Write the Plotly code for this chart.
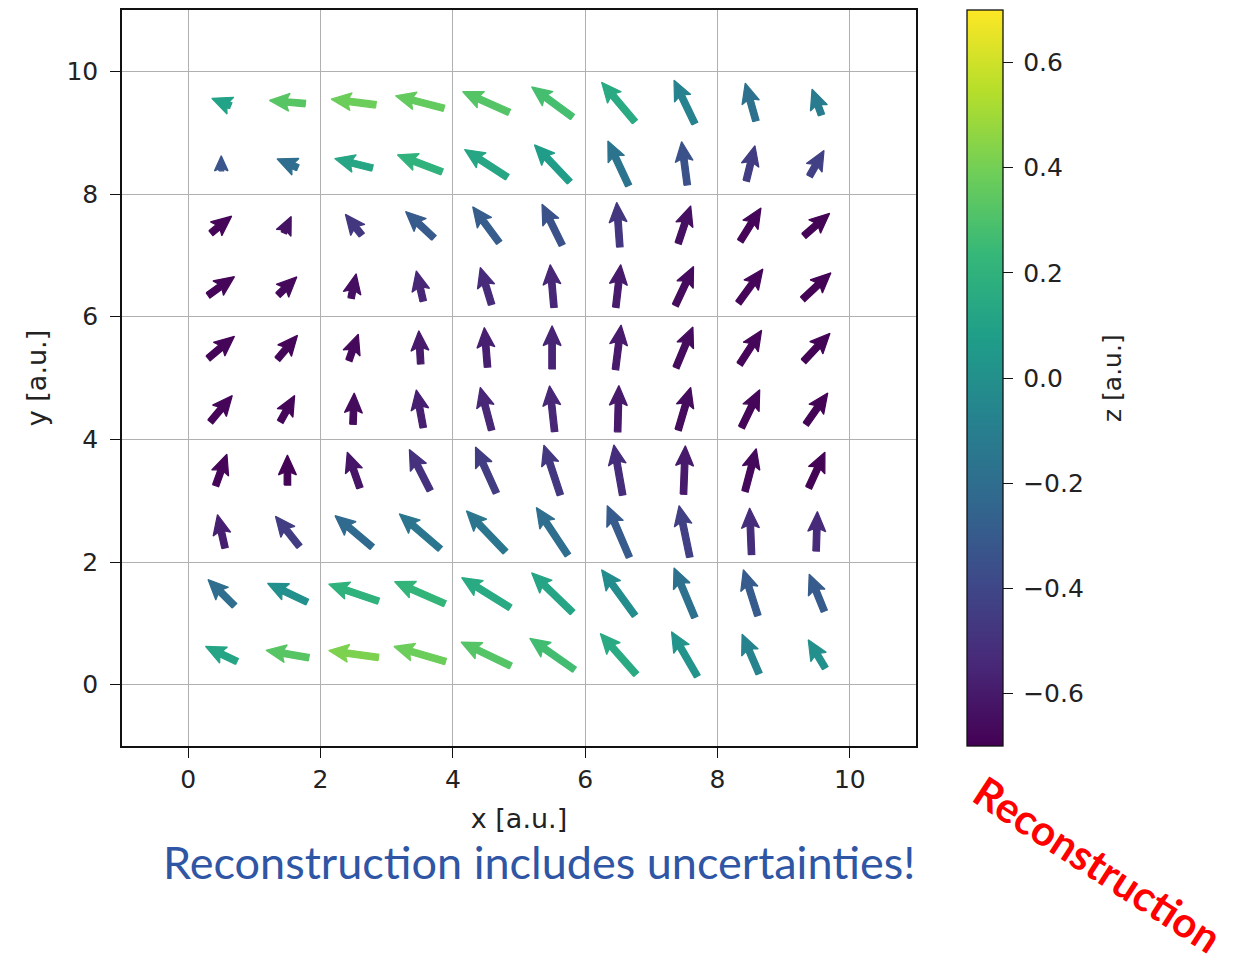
import numpy as np
import plotly.graph_objects as go
from plotly.colors import sample_colorscale

# ---- data ----
x_centers = [0.5, 1.5, 2.5, 3.5, 4.5, 5.5, 6.5, 7.5, 8.5, 9.5]
y_centers = [0.5, 1.5, 2.5, 3.5, 4.5, 5.5, 6.5, 7.5, 8.5, 9.5]

# rows: y = 0.5 (bottom) ... 9.5 (top); columns: x = 0.5 ... 9.5
U = [
    [-0.50, -0.68, -0.79, -0.82, -0.79, -0.71, -0.57, -0.41, -0.27, -0.27],
    [-0.42, -0.63, -0.79, -0.80, -0.77, -0.65, -0.53, -0.33, -0.23, -0.24],
    [-0.12, -0.38, -0.59, -0.65, -0.62, -0.50, -0.35, -0.17, -0.03, 0.02],
    [0.18, 0.00, -0.20, -0.33, -0.33, -0.26, -0.14, 0.03, 0.18, 0.26],
    [0.35, 0.23, 0.02, -0.11, -0.18, -0.08, 0.02, 0.20, 0.29, 0.35],
    [0.42, 0.32, 0.15, -0.03, -0.05, 0.00, 0.09, 0.27, 0.35, 0.42],
    [0.42, 0.30, 0.08, -0.11, -0.18, -0.06, 0.08, 0.29, 0.39, 0.45],
    [0.33, 0.12, -0.26, -0.45, -0.42, -0.32, -0.05, 0.20, 0.33, 0.41],
    [0.00, -0.33, -0.60, -0.71, -0.68, -0.56, -0.33, -0.09, 0.14, 0.23],
    [-0.30, -0.57, -0.71, -0.77, -0.74, -0.65, -0.53, -0.33, -0.17, -0.15],
]
V = [
    [0.24, 0.12, 0.11, 0.24, 0.38, 0.50, 0.65, 0.71, 0.63, 0.45],
    [0.42, 0.30, 0.27, 0.35, 0.48, 0.63, 0.73, 0.79, 0.73, 0.59],
    [0.53, 0.48, 0.50, 0.56, 0.65, 0.76, 0.82, 0.82, 0.74, 0.63],
    [0.50, 0.48, 0.57, 0.65, 0.73, 0.79, 0.80, 0.77, 0.68, 0.57],
    [0.42, 0.42, 0.50, 0.60, 0.68, 0.73, 0.74, 0.68, 0.60, 0.50],
    [0.35, 0.38, 0.42, 0.53, 0.63, 0.69, 0.71, 0.65, 0.54, 0.45],
    [0.30, 0.29, 0.39, 0.48, 0.59, 0.68, 0.68, 0.62, 0.54, 0.42],
    [0.27, 0.26, 0.33, 0.42, 0.57, 0.65, 0.71, 0.60, 0.53, 0.36],
    [0.24, 0.14, 0.15, 0.27, 0.44, 0.59, 0.71, 0.69, 0.56, 0.41],
    [0.12, 0.05, 0.09, 0.20, 0.33, 0.48, 0.63, 0.69, 0.60, 0.41],
]
Z = [
    [0.12, 0.33, 0.42, 0.38, 0.32, 0.27, 0.15, 0.02, -0.07, 0.00],
    [-0.20, 0.00, 0.20, 0.22, 0.15, 0.12, -0.02, -0.18, -0.30, -0.30],
    [-0.58, -0.45, -0.22, -0.15, -0.15, -0.20, -0.30, -0.43, -0.52, -0.53],
    [-0.68, -0.69, -0.62, -0.50, -0.45, -0.47, -0.52, -0.60, -0.67, -0.69],
    [-0.68, -0.68, -0.66, -0.58, -0.55, -0.55, -0.60, -0.66, -0.68, -0.69],
    [-0.68, -0.68, -0.67, -0.60, -0.58, -0.56, -0.60, -0.66, -0.68, -0.69],
    [-0.68, -0.67, -0.65, -0.55, -0.53, -0.55, -0.60, -0.66, -0.68, -0.69],
    [-0.68, -0.63, -0.47, -0.30, -0.29, -0.35, -0.48, -0.64, -0.68, -0.69],
    [-0.33, -0.20, 0.13, 0.20, 0.13, 0.07, -0.16, -0.35, -0.45, -0.43],
    [0.10, 0.33, 0.38, 0.36, 0.32, 0.28, 0.15, -0.08, -0.18, -0.12],
]
x_ticks = [0, 2, 4, 6, 8, 10]
y_ticks = [0, 2, 4, 6, 8, 10]
z_ticks = [-0.6, -0.4, -0.2, 0.0, 0.2, 0.4, 0.6]
ZMIN, ZMAX = -0.7, 0.7
XRANGE = [-1, 11]
YRANGE = [-1, 11]

# ---- layout geometry ----
FIG_W, FIG_H = 1256, 961
ML, MR, MT, MB = 122, 340, 8, 215
PW = FIG_W - ML - MR
PH = FIG_H - MT - MB
XPX = PW / (XRANGE[1] - XRANGE[0])
YPX = PH / (YRANGE[1] - YRANGE[0])

# quiver arrow style (pixels)
SCALE = 63.0
W = 6.5
HW = 18.0
HL = 20.0
HAL = 17.5

TXT = "#222"
FONT = "DejaVu Sans"

fig = go.Figure()

for j, yc in enumerate(y_centers):
    for i, xc in enumerate(x_centers):
        u, v, z = U[j][i], V[j][i], Z[j][i]
        L = float(np.hypot(u, v)) * SCALE
        ang = np.arctan2(v, u)
        if L >= HL:
            a = np.array([0, L - HAL, L - HL, L, L - HL, L - HAL, 0, 0])
            b = np.array([W / 2, W / 2, HW / 2, 0, -HW / 2, -W / 2, -W / 2, W / 2])
        else:
            s = L / HL
            a = np.array([0, HL - HAL, 0, HL, 0, HL - HAL, 0, 0]) * s
            b = np.array([W / 2, W / 2, HW / 2, 0, -HW / 2, -W / 2, -W / 2, W / 2]) * s
        a = a - L / 2.0
        c, sn = np.cos(ang), np.sin(ang)
        px = a * c - b * sn
        py = a * sn + b * c
        col = sample_colorscale("Viridis", [(z - ZMIN) / (ZMAX - ZMIN)])[0]
        fig.add_trace(go.Scatter(
            x=xc + px / XPX, y=yc + py / YPX,
            mode="lines", fill="toself", fillcolor=col,
            line=dict(color=col, width=1.2),
            hoverinfo="skip", showlegend=False,
        ))

# colorbar carrier
xs_all = [xc for yc in y_centers for xc in x_centers]
ys_all = [yc for yc in y_centers for xc in x_centers]
zs_all = [Z[j][i] for j in range(len(y_centers)) for i in range(len(x_centers))]
fig.add_trace(go.Scatter(
    x=xs_all, y=ys_all, mode="markers", hoverinfo="skip", showlegend=False,
    marker=dict(
        size=1, opacity=0, color=zs_all, colorscale="Viridis",
        cmin=ZMIN, cmax=ZMAX, showscale=True,
        colorbar=dict(
            x=(966.5 - ML) / PW, xanchor="left", xpad=0, ypad=0,
            y=0.5, yanchor="middle", len=1, lenmode="fraction",
            thickness=36, thicknessmode="pixels",
            outlinewidth=1.3, outlinecolor="#111",
            tickmode="array", tickvals=z_ticks,
            ticktext=["\u2009" + ("\u2212" if t < 0 else "") + f"{abs(t):.1f}" for t in z_ticks],
            ticks="outside", ticklen=10, tickwidth=1.3, tickcolor="#111",
            tickfont=dict(size=25, color=TXT, family=FONT),
        ),
    ),
))

axis_common = dict(
    showgrid=True, gridcolor="#b0b0b0", gridwidth=1.3,
    showline=True, linecolor="#111", linewidth=1.5, mirror=True,
    ticks="outside", ticklen=10, tickwidth=1.3, tickcolor="#111",
    zeroline=False, tickfont=dict(size=25, color=TXT, family=FONT),
)

fig.update_layout(
    width=FIG_W, height=FIG_H, autosize=False,
    margin=dict(l=ML, r=MR, t=MT, b=MB),
    paper_bgcolor="white", plot_bgcolor="white",
    font=dict(family=FONT, size=25, color=TXT),
    xaxis=dict(range=XRANGE, tickvals=x_ticks, **axis_common,
               title=dict(text="x [a.u.]", standoff=16,
                          font=dict(size=27, color=TXT, family=FONT))),
    yaxis=dict(range=YRANGE, tickvals=y_ticks, **axis_common,
               ticklabelstandoff=7,
               title=dict(text="y [a.u.]", standoff=12,
                          font=dict(size=27, color=TXT, family=FONT))),
    annotations=[
        dict(text="z [a.u.]", xref="paper", yref="paper",
             x=(1112 - ML) / PW, y=0.5, xanchor="center", yanchor="middle",
             textangle=-90, showarrow=False,
             font=dict(size=25, color=TXT, family=FONT)),
        dict(text="Reconstruction includes uncertainties!",
             xref="paper", yref="paper",
             x=(539 - ML) / PW, y=(746 - 862) / PH,
             xanchor="center", yanchor="middle", showarrow=False,
             font=dict(family="Lato", size=45, color="#2F55A5")),
        dict(text="<b>Reconstruction</b>",
             xref="paper", yref="paper",
             x=(1098 - ML) / PW, y=(746 - 864) / PH,
             xanchor="center", yanchor="middle", showarrow=False,
             textangle=33,
             font=dict(family="Lato", size=42, color="#FF0000")),
    ],
)

fig.write_html("out.html", config={"displayModeBar": False},
               post_script="document.body.style.margin='0px';")
